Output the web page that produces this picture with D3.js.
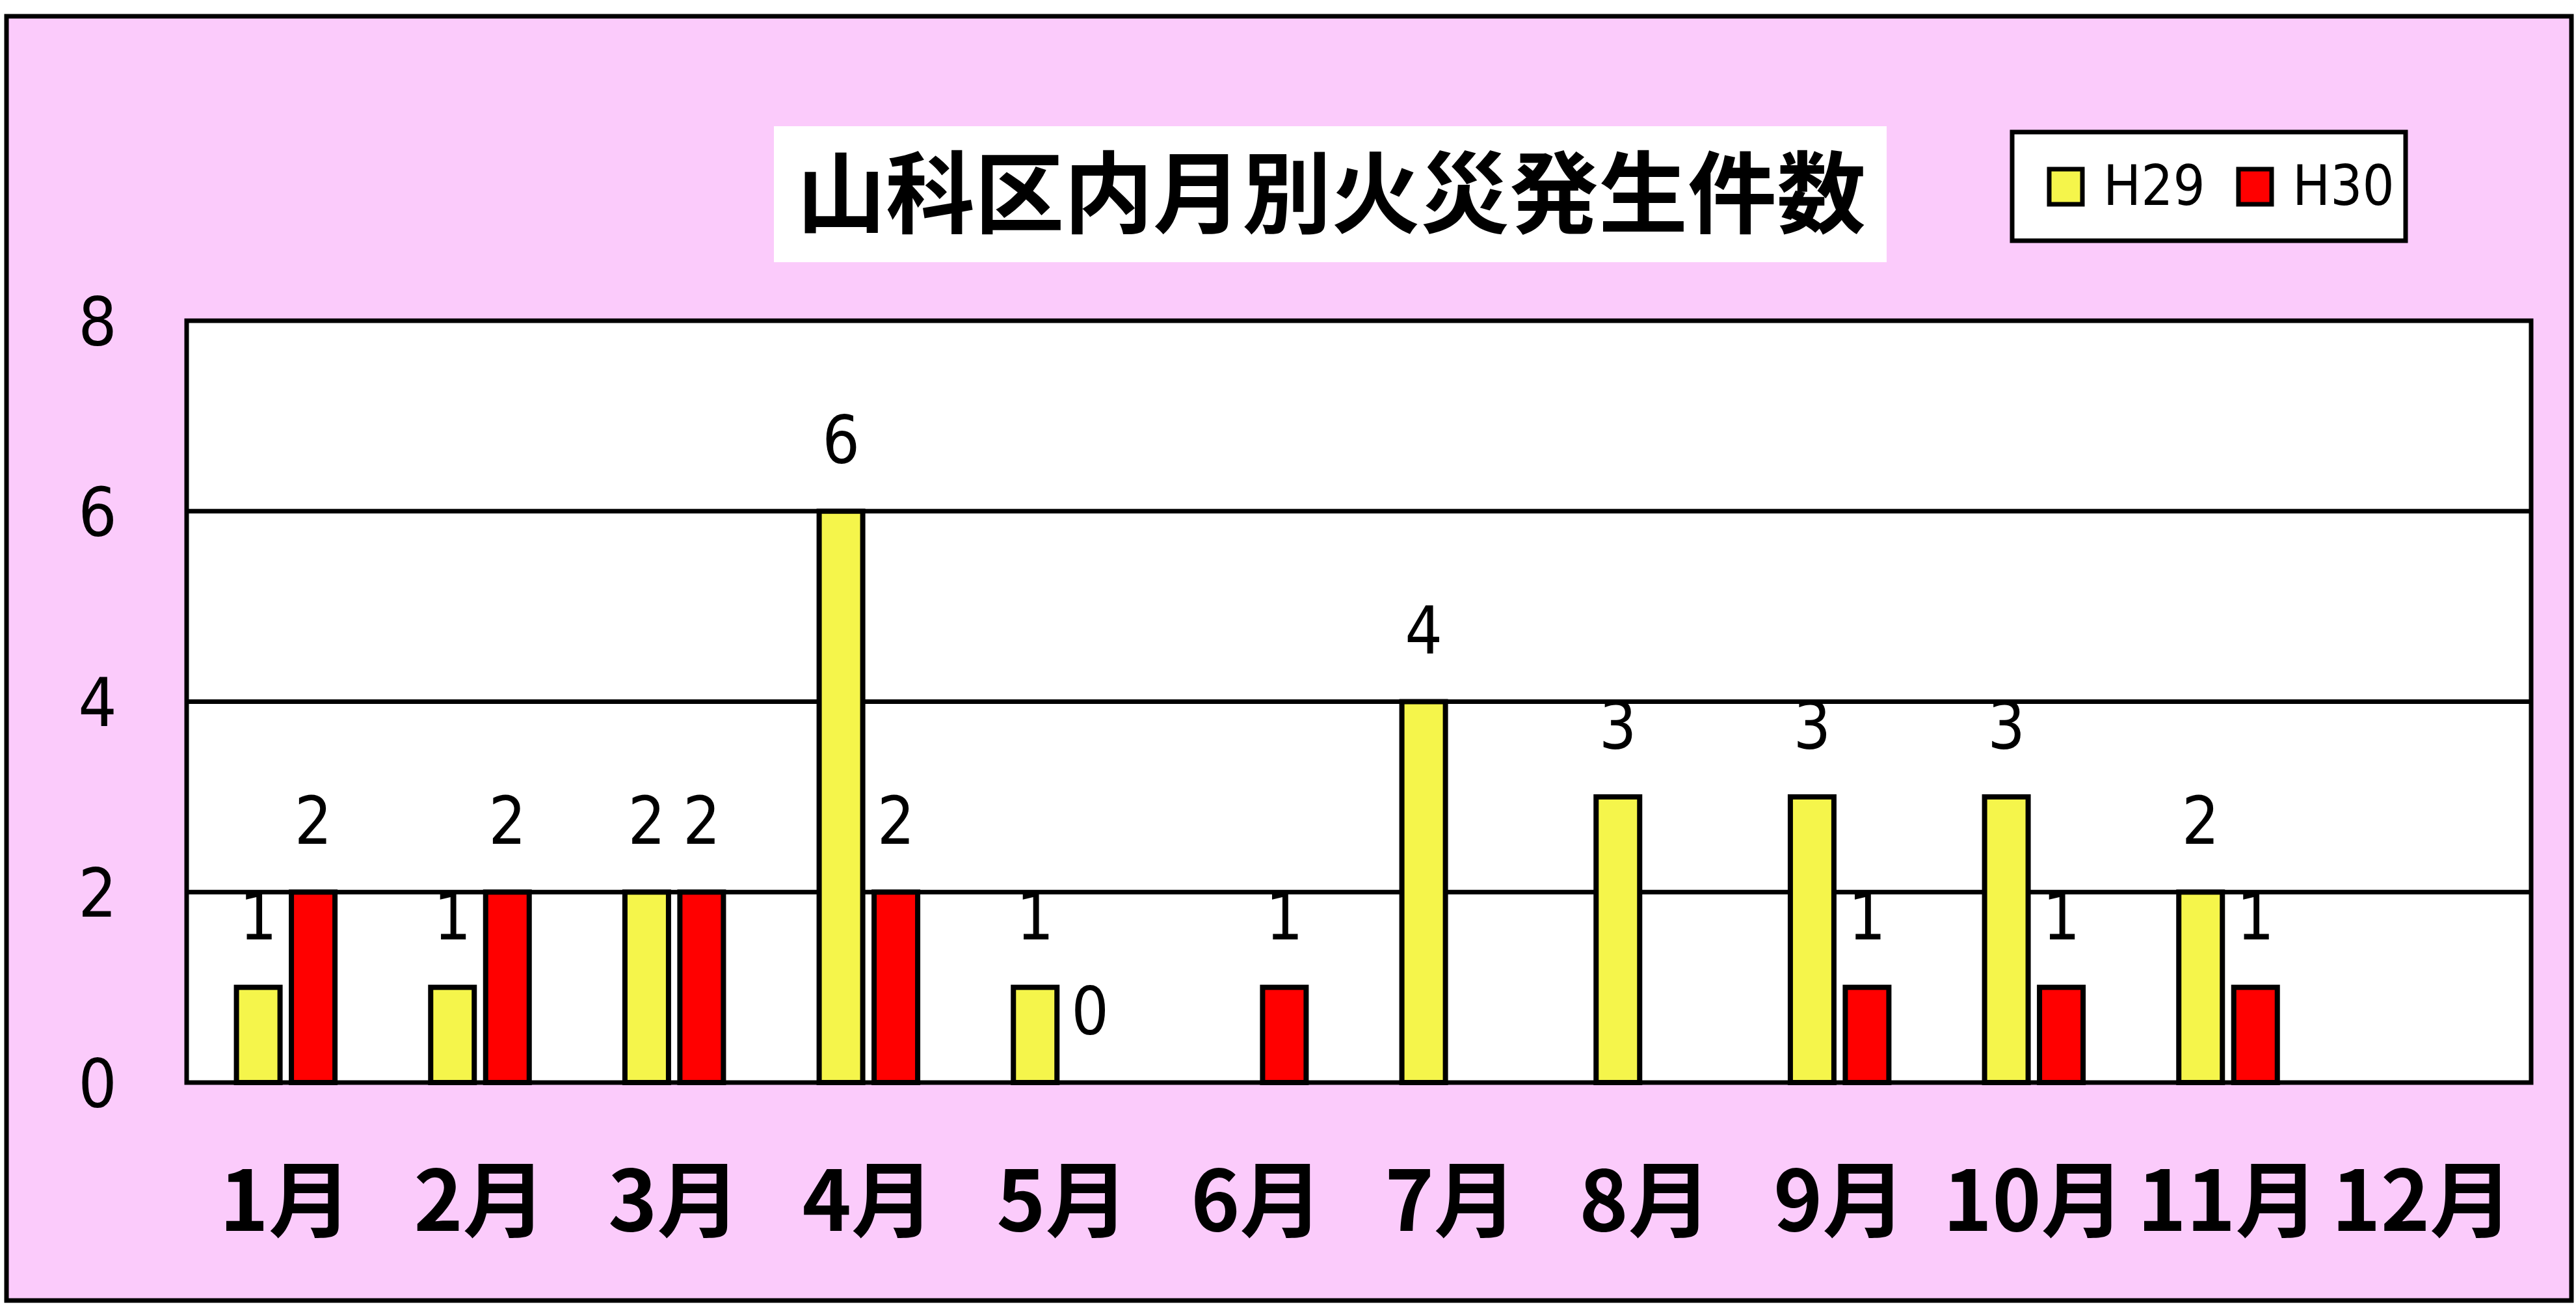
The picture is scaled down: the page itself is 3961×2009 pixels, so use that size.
<!DOCTYPE html>
<html>
<head>
<meta charset="utf-8">
<script src="https://cdn.jsdelivr.net/npm/d3@7"></script>
<style>
  body { margin: 0; background: #fff; }
  .num { font-family: "DejaVu Sans Condensed", "DejaVu Sans", sans-serif; font-stretch: condensed; }
  .jp { font-family: "Noto Sans CJK JP", sans-serif; font-weight: 700; }
</style>
</head>
<body>
<svg id="canvas"></svg>
<script>
const months = ["1月", "2月", "3月", "4月", "5月", "6月", "7月", "8月", "9月", "10月", "11月", "12月"];
const seriesNames = ["H29", "H30"];
const h29 = [1, 1, 2, 6, 1, null, 4, 3, 3, 3, 2, null];
const h30 = [2, 2, 2, 2, 0, 1, null, null, 1, 1, 1, null];
const yTicks = [0, 2, 4, 6, 8];
const titleText = "山科区内月別火災発生件数";
const seriesColors = ["#F5F54B", "#FF0000"];

const width = 3961;
const height = 2009;
const plot = { left: 287, right: 3892, top: 493, bottom: 1664 };

const svg = d3.select("#canvas").attr("width", width).attr("height", height);

// outer frame
svg.append("rect")
  .attr("x", 10).attr("y", 25)
  .attr("width", 3944).attr("height", 1974)
  .attr("fill", "#FBCBFB")
  .attr("stroke", "#000")
  .attr("stroke-width", 7);

const x = d3.scaleBand().domain(months).range([290, 3874]);
const xInner = d3.scaleBand()
  .domain(seriesNames)
  .range([0, x.bandwidth()])
  .paddingInner(0.207)
  .paddingOuter(0.871);
const y = d3.scaleLinear().domain([0, 8]).range([plot.bottom, plot.top]);

// plot area
svg.append("rect")
  .attr("x", plot.left).attr("y", plot.top)
  .attr("width", plot.right - plot.left).attr("height", plot.bottom - plot.top)
  .attr("fill", "#fff");

// gridlines
svg.append("g")
  .selectAll("line")
  .data(yTicks.slice(1, -1))
  .enter()
  .append("line")
  .attr("x1", plot.left).attr("x2", plot.right)
  .attr("y1", (d) => y(d)).attr("y2", (d) => y(d))
  .attr("stroke", "#000")
  .attr("stroke-width", 7);

const rows = months.map((m, i) => ({
  month: m,
  values: [
    { series: seriesNames[0], value: h29[i], color: seriesColors[0] },
    { series: seriesNames[1], value: h30[i], color: seriesColors[1] }
  ]
}));

const groups = svg.append("g")
  .selectAll("g")
  .data(rows)
  .enter()
  .append("g")
  .attr("transform", (d) => `translate(${x(d.month)},0)`);

groups.selectAll("rect")
  .data((d) => d.values.filter((v) => v.value !== null && v.value > 0))
  .enter()
  .append("rect")
  .attr("x", (d) => xInner(d.series))
  .attr("width", xInner.bandwidth())
  .attr("y", (d) => y(d.value))
  .attr("height", (d) => y(0) - y(d.value))
  .attr("fill", (d) => d.color)
  .attr("stroke", "#000")
  .attr("stroke-width", 8);

// plot border
svg.append("rect")
  .attr("x", plot.left).attr("y", plot.top)
  .attr("width", plot.right - plot.left).attr("height", plot.bottom - plot.top)
  .attr("fill", "none")
  .attr("stroke", "#000")
  .attr("stroke-width", 7);

// data labels
groups.selectAll("text")
  .data((d) => d.values.filter((v) => v.value !== null))
  .enter()
  .append("text")
  .attr("class", "num")
  .attr("x", (d) => xInner(d.series) + xInner.bandwidth() / 2)
  .attr("y", (d) => y(d.value) - 74)
  .attr("text-anchor", "middle")
  .attr("font-size", 101)
  .attr("fill", "#000")
  .text((d) => d.value);

// y axis labels
const yAxis = svg.append("g")
  .attr("transform", `translate(${plot.left},0)`)
  .call(d3.axisLeft(y).tickValues(yTicks).tickSize(0).tickFormat(d3.format("d")));
yAxis.select(".domain").remove();
yAxis.selectAll("text")
  .attr("class", "num")
  .attr("x", -137)
  .attr("dy", "0.36em")
  .attr("text-anchor", "middle")
  .attr("font-size", 104)
  .attr("fill", "#000");

// x axis labels
const xAxis = svg.append("g")
  .attr("transform", `translate(0,${plot.bottom})`)
  .call(d3.axisBottom(x).tickSize(0));
xAxis.select(".domain").remove();
xAxis.selectAll("text")
  .attr("class", "jp")
  .attr("y", 228)
  .attr("dy", 0)
  .attr("font-size", 128)
  .attr("fill", "#000");

// title
svg.append("rect")
  .attr("x", 1190).attr("y", 194)
  .attr("width", 1711).attr("height", 209)
  .attr("fill", "#fff");
svg.append("text")
  .attr("class", "jp")
  .attr("x", 2047).attr("y", 348)
  .attr("text-anchor", "middle")
  .attr("font-size", 137)
  .attr("fill", "#000")
  .text(titleText);

// legend
const legend = svg.append("g");
legend.append("rect")
  .attr("x", 3094).attr("y", 203)
  .attr("width", 605).attr("height", 167)
  .attr("fill", "#fff")
  .attr("stroke", "#000")
  .attr("stroke-width", 7);
const legendX = [3148, 3439];
const item = legend.selectAll("g.item")
  .data(seriesNames)
  .enter()
  .append("g")
  .attr("class", "item")
  .attr("transform", (d, i) => `translate(${legendX[i]},0)`);
item.append("rect")
  .attr("x", 3).attr("y", 260)
  .attr("width", 51).attr("height", 54)
  .attr("fill", (d, i) => seriesColors[i])
  .attr("stroke", "#000")
  .attr("stroke-width", 7);
item.append("text")
  .attr("class", "num")
  .attr("x", 86).attr("y", 315)
  .attr("font-size", 86)
  .attr("fill", "#000")
  .text((d) => d);
</script>
</body>
</html>
